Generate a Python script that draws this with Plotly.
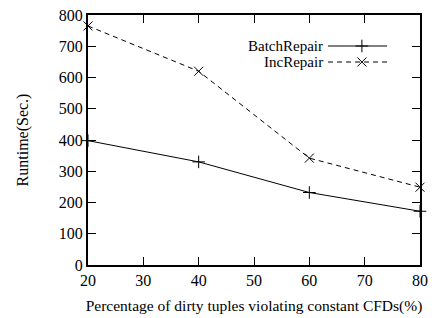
import plotly.graph_objects as go

x_pct = [20, 40, 60, 80]
batch_repair = [398, 330, 232, 172]
inc_repair = [765, 620, 342, 249]
x_ticks = [20, 30, 40, 50, 60, 70, 80]
y_ticks = [0, 100, 200, 300, 400, 500, 600, 700, 800]

FONT = "Liberation Serif, Times New Roman, serif"

fig = go.Figure()
fig.add_trace(go.Scatter(
    x=x_pct, y=batch_repair, mode="lines+markers", name="BatchRepair",
    line=dict(color="black", width=1),
    marker=dict(symbol="cross-thin", size=9, line=dict(color="black", width=1)),
    showlegend=False, cliponaxis=False))
fig.add_trace(go.Scatter(
    x=x_pct, y=inc_repair, mode="lines+markers", name="IncRepair",
    line=dict(color="black", width=1, dash="5px,4px"),
    marker=dict(symbol="x-thin", size=9, line=dict(color="black", width=1)),
    showlegend=False, cliponaxis=False))

# legend samples on a hidden unit axis
legend_rows = [(0.876, "BatchRepair", "cross-thin", "solid"),
               (0.812, "IncRepair", "x-thin", "5px,4px")]
for yy, name, sym, dash in legend_rows:
    fig.add_trace(go.Scatter(
        x=[0.723, 0.901], y=[yy, yy], mode="lines", xaxis="x2", yaxis="y2",
        line=dict(color="black", width=1, dash=dash), showlegend=False,
        hoverinfo="skip"))
    fig.add_trace(go.Scatter(
        x=[0.825], y=[yy], mode="markers", xaxis="x2", yaxis="y2",
        marker=dict(symbol=sym, size=9, line=dict(color="black", width=1)),
        showlegend=False, hoverinfo="skip"))
    fig.add_annotation(x=0.714, y=yy, xref="x2", yref="y2", text=name,
                       showarrow=False, xanchor="right", yanchor="middle",
                       font=dict(family=FONT, size=15, color="black"))

axis_common = dict(showgrid=False, zeroline=False, ticks="inside", ticklen=8,
                   tickwidth=1, tickcolor="black", linecolor="black",
                   linewidth=2, showline=True, mirror="ticks", automargin=False,
                   ticklabeloverflow="allow",
                   tickfont=dict(family=FONT, size=16, color="black"))

fig.update_layout(
    width=432, height=318,
    margin=dict(l=88, r=12, t=15, b=53),
    paper_bgcolor="white", plot_bgcolor="white",
    font=dict(family=FONT, size=16, color="black"),
    xaxis=dict(range=[20, 80], tickvals=x_ticks,
               title=dict(text="Percentage of dirty tuples violating constant CFDs(%)",
                          font=dict(family=FONT, size=15.5), standoff=12),
               **axis_common),
    yaxis=dict(range=[0, 800], tickvals=y_ticks,
               title=dict(text="Runtime(Sec.)", font=dict(family=FONT, size=16),
                          standoff=26),
               **axis_common),
    xaxis2=dict(range=[0, 1], overlaying="x", visible=False, domain=[0, 1]),
    yaxis2=dict(range=[0, 1], overlaying="y", visible=False),
)

fig.write_html("out.html", config={"displayModeBar": False},
               post_script="document.body.style.margin='0';"
                           "document.body.style.overflow='hidden';")
